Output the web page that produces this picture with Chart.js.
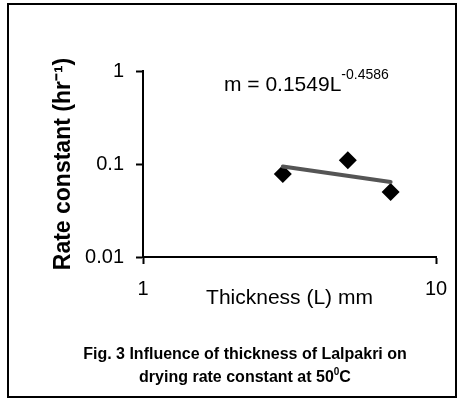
<!DOCTYPE html>
<html>
<head>
<meta charset="utf-8">
<script src="https://cdn.jsdelivr.net/npm/chart.js@4.4.0/dist/chart.umd.min.js"></script>
<style>
  html, body { margin: 0; padding: 0; background: #fff; }
  #wrap { position: relative; width: 461px; height: 400px; overflow: hidden; }
  #chart { position: absolute; left: 0; top: 0; }
  #frame {
    position: absolute; left: 7px; top: 3px; width: 450px; height: 395px;
    border: 2px solid #000; box-sizing: border-box; pointer-events: none;
  }
  #equation {
    position: absolute; left: 224px; top: 73px;
    font: 21px "Liberation Sans", Arial, sans-serif; line-height: 21px;
    white-space: nowrap; color: #000;
  }
  #equation span { font-size: 14px; position: relative; top: -12px; }
  #caption {
    position: absolute; left: 45px; top: 342px; width: 400px; text-align: center;
    font: bold 16px "Liberation Sans", Arial, sans-serif; line-height: 23px; color: #000;
  }
  #caption span { font-size: 10px; position: relative; top: -7px; }
</style>
</head>
<body>
<div id="wrap">
  <canvas id="chart" width="461" height="400"></canvas>
  <div id="equation">m = 0.1549L<span>-0.4586</span></div>
  <div id="caption">Fig. 3 Influence of thickness of Lalpakri on<br>drying rate constant at 50<span>0</span>C</div>
  <div id="frame"></div>
</div>
<script>
// measured points: thickness (mm) vs drying rate constant (1/hr)
const thickness = [3, 5, 7];
const rateConstant = [0.078, 0.11, 0.05];

// power-law trendline end points
const fitThickness = [3, 7];
const fitRate = [0.094, 0.064];

const xTickValues = [1, 10];
const yTickValues = [0.01, 0.1, 1];

const fontFamily = "'Liberation Sans', Arial, sans-serif";

const axisGrid = {
  drawOnChartArea: false,
  drawTicks: true,
  tickLength: 7,
  tickColor: "#000",
  tickWidth: 2,
  color: "#000",
};

new Chart(document.getElementById("chart").getContext("2d"), {
  type: "scatter",
  data: {
    datasets: [
      {
        label: "Rate constant",
        data: thickness.map((x, i) => ({ x: x, y: rateConstant[i] })),
        pointStyle: "rectRot",
        pointRadius: 9,
        backgroundColor: "#000",
        borderColor: "#000",
        borderWidth: 0,
        order: 2,
      },
      {
        label: "Power fit",
        type: "line",
        data: fitThickness.map((x, i) => ({ x: x, y: fitRate[i] })),
        borderColor: "#555",
        borderWidth: 4,
        borderCapStyle: "round",
        pointRadius: 0,
        fill: false,
        order: 1,
      },
    ],
  },
  options: {
    responsive: false,
    animation: false,
    events: [],
    layout: { padding: { left: 45, top: 71, right: 25, bottom: 89 } },
    plugins: {
      legend: { display: false },
      tooltip: { enabled: false },
    },
    scales: {
      x: {
        type: "logarithmic",
        min: 1,
        max: 10,
        afterBuildTicks: (scale) => {
          scale.ticks = xTickValues.map((v) => ({ value: v }));
        },
        afterFit: (scale) => {
          scale.height = 54;
        },
        ticks: {
          color: "#000",
          font: { family: fontFamily, size: 20 },
          padding: 13,
          maxRotation: 0,
          callback: (v) => String(v),
        },
        grid: axisGrid,
        border: { display: true, color: "#000", width: 2 },
        title: {
          display: true,
          text: "Thickness (L) mm",
          color: "#000",
          font: { family: fontFamily, size: 21 },
          padding: { top: 0, bottom: 0 },
        },
      },
      y: {
        type: "logarithmic",
        min: 0.01,
        max: 1,
        afterBuildTicks: (scale) => {
          scale.ticks = yTickValues.map((v) => ({ value: v }));
        },
        afterFit: (scale) => {
          scale.width = 98;
        },
        ticks: {
          color: "#000",
          font: { family: fontFamily, size: 20 },
          padding: 12,
          callback: (v) => String(v),
        },
        grid: axisGrid,
        border: { display: true, color: "#000", width: 2 },
        title: {
          display: true,
          text: "Rate constant (hr\u207B\u00B9)",
          color: "#000",
          font: { family: fontFamily, size: 23, weight: "bold" },
          padding: { top: 5, bottom: 0 },
        },
      },
    },
  },
});
</script>
</body>
</html>
